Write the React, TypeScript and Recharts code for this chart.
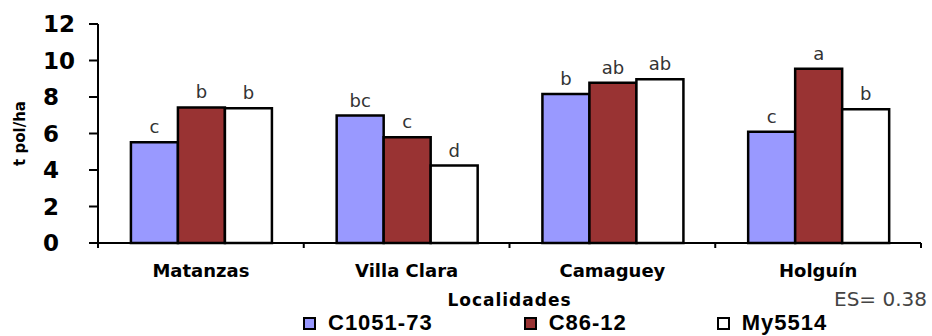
import React from 'react';
import { BarChart, Bar, XAxis, YAxis, Legend, LabelList, Label } from 'recharts';

const categories = ['Matanzas', 'Villa Clara', 'Camaguey', 'Holguín'];
const c1051 = [5.52, 6.98, 8.16, 6.1];
const c8612 = [7.43, 5.79, 8.78, 9.55];
const my5514 = [7.38, 4.24, 8.97, 7.33];
const lettersC1051 = ['c', 'bc', 'b', 'c'];
const lettersC8612 = ['b', 'c', 'ab', 'a'];
const lettersMy5514 = ['b', 'd', 'ab', 'b'];
const yTicks = [0, 2, 4, 6, 8, 10, 12];

const series = [
  { key: 'c1051', name: 'C1051-73', color: '#9999FF', letters: 'l1' },
  { key: 'c8612', name: 'C86-12', color: '#993333', letters: 'l2' },
  { key: 'my5514', name: 'My5514', color: '#FFFFFF', letters: 'l3' },
];

const data = categories.map((name, i) => ({
  name,
  c1051: c1051[i],
  c8612: c8612[i],
  my5514: my5514[i],
  l1: lettersC1051[i],
  l2: lettersC8612[i],
  l3: lettersMy5514[i],
}));

const BOLD = '"DejaVu Sans", sans-serif';

// category label plus small tick marks at the band edges (Excel style)
// eslint-disable-next-line @typescript-eslint/no-explicit-any
function CatTick({ x, y, payload, index, visibleTicksCount }: any) {
  const half = payload.offset ?? 0;
  const last = index === visibleTicksCount - 1;
  return (
    <g>
      <line x1={x - half} y1={y} x2={x - half} y2={y + 5} stroke="#000" strokeWidth={2} />
      {last && <line x1={x + half} y1={y} x2={x + half} y2={y + 5} stroke="#000" strokeWidth={2} />}
      <text x={x} y={y} dy={34} textAnchor="middle" fontFamily={BOLD} fontWeight="bold" fontSize={18} fill="#000">
        {payload.value}
      </text>
    </g>
  );
}

// eslint-disable-next-line @typescript-eslint/no-explicit-any
function YTick({ x, y, payload }: any) {
  return (
    <text x={x} y={y} dy={8} textAnchor="start" fontFamily={BOLD} fontWeight="bold" fontSize={23} fill="#000">
      {payload.value}
    </text>
  );
}

// eslint-disable-next-line @typescript-eslint/no-explicit-any
function YTitle({ viewBox }: any) {
  const cx = 20;
  const cy = viewBox.y + viewBox.height / 2;
  return (
    <text
      x={cx}
      y={cy}
      transform={`rotate(-90 ${cx} ${cy})`}
      textAnchor="middle"
      dominantBaseline="central"
      fontFamily={BOLD}
      fontWeight="bold"
      fontSize={15}
      fill="#000"
    >
      t pol/ha
    </text>
  );
}

// eslint-disable-next-line @typescript-eslint/no-explicit-any
function ESNote({ viewBox }: any) {
  return (
    <text
      x={viewBox.x + viewBox.width + 6}
      y={viewBox.y + viewBox.height - 4}
      textAnchor="end"
      fontFamily={BOLD}
      fontSize={20}
      fill="#444"
    >
      ES= 0.38
    </text>
  );
}

function LegendBox() {
  return (
    <div style={{ display: 'flex', alignItems: 'center', paddingLeft: 303, height: 26 }}>
      {series.map((s, i) => (
        <div key={s.key} style={{ display: 'flex', alignItems: 'center', marginRight: i === 0 ? 91 : 90 }}>
          <span
            style={{
              display: 'inline-block',
              width: 9,
              height: 9,
              background: s.color,
              border: '2px solid #000',
              marginRight: 12,
            }}
          />
          <span
            style={{
              fontFamily: '"Liberation Sans", Arial, sans-serif',
              fontWeight: 'bold',
              fontSize: 22,
              letterSpacing: 1,
              color: '#000',
              lineHeight: '26px',
            }}
          >
            {s.name}
          </span>
        </div>
      ))}
    </div>
  );
}

export default function App() {
  return (
    <div style={{ position: 'absolute', left: 0, top: 0, width: 932, height: 336, background: '#fff' }}>
      <BarChart
        width={932}
        height={336}
        data={data}
        margin={{ top: 24, right: 11, left: 0, bottom: 0 }}
        barGap={0}
        barCategoryGap="16%"
      >
        <XAxis
          xAxisId="cat"
          dataKey="name"
          height={67}
          interval={0}
          axisLine={{ stroke: '#000', strokeWidth: 2 }}
          tickLine={false}
          tickSize={0}
          tickMargin={0}
          tick={<CatTick />}
        >
          <Label
            value="Localidades"
            position="insideBottom"
            offset={4}
            fontFamily={BOLD}
            fontWeight="bold"
            fontSize={17}
            letterSpacing={1}
            fill="#000"
          />
          <Label content={<ESNote />} />
        </XAxis>
        <YAxis
          width={98}
          domain={[0, 12]}
          ticks={yTicks}
          interval={0}
          axisLine={{ stroke: '#000', strokeWidth: 2 }}
          tickLine={{ stroke: '#000', strokeWidth: 2 }}
          tickSize={9}
          tickMargin={46}
          tick={<YTick />}
        >
          <Label content={<YTitle />} />
        </YAxis>
        <Legend verticalAlign="bottom" height={26} content={<LegendBox />} />
        {series.map((s) => (
          <Bar
            key={s.key}
            xAxisId="cat"
            dataKey={s.key}
            name={s.name}
            fill={s.color}
            stroke="#000"
            strokeWidth={2.5}
            isAnimationActive={false}
          >
            <LabelList dataKey={s.letters} position="top" offset={9} fill="#333" fontSize={18} fontFamily={BOLD} />
          </Bar>
        ))}
      </BarChart>
    </div>
  );
}
